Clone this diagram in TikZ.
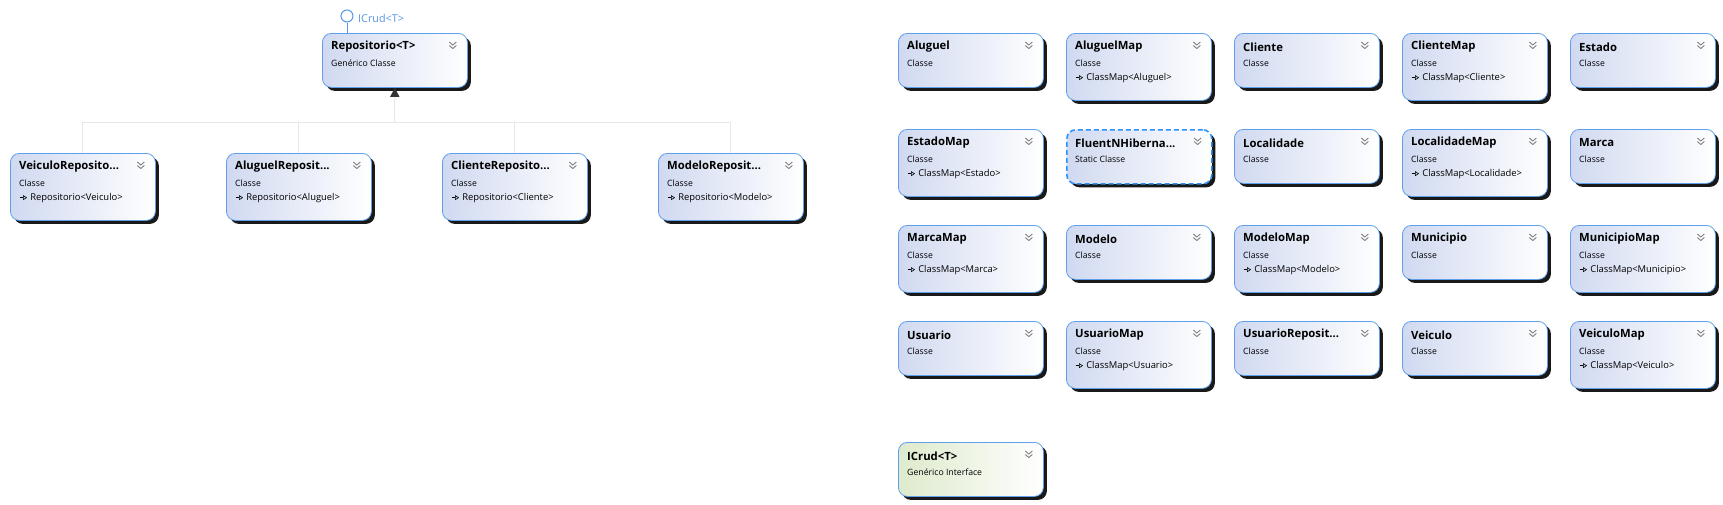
\documentclass[tikz,border=0pt]{standalone}
\usepackage{fontspec}
\setmainfont{Open Sans}
\usetikzlibrary{shadows,arrows.meta,calc}
\definecolor{bordblue}{RGB}{95,160,238}
\definecolor{dashblue}{RGB}{45,145,250}
\definecolor{fillblue}{RGB}{208,217,240}
\definecolor{fillgreen}{RGB}{222,234,204}
\definecolor{icblue}{RGB}{90,150,230}
\definecolor{connc}{RGB}{232,232,232}
\definecolor{chevc}{RGB}{128,128,128}
\newcommand\inh{\tikz[baseline=-2.8pt]\draw[line width=0.6pt,-{Triangle[open,length=4pt,width=5pt]}] (0pt,0pt) -- (7.5pt,0pt);\hspace{3pt}}
\tikzset{
  cls/.style={draw=bordblue, line width=0.8pt, rounded corners=9pt,
    left color=fillblue, right color=white, minimum width=145pt,
    anchor=north west, inner sep=0pt,
    drop shadow={shadow xshift=3.5pt, shadow yshift=-3.5pt, fill=black, opacity=0.9}},
  clsdash/.style={cls, draw=dashblue, line width=1.6pt, dash pattern=on 5pt off 3pt},
  clsint/.style={cls, left color=fillgreen, right color=white},
  two/.style={minimum height=54pt},
  three/.style={minimum height=67pt},
  ttl/.style={anchor=west, inner sep=0pt, font=\bfseries\fontsize{11.3}{13}\selectfont},
  sub/.style={anchor=west, inner sep=0pt, font=\fontsize{8.7}{10}\selectfont},
  base/.style={anchor=west, inner sep=0pt, font=\fontsize{9.4}{11}\selectfont},
  chev/.style={draw=chevc, line width=0.9pt},
  conn/.style={draw=connc, line width=1pt},
}
% name, x, y, style, title, sub
\newcommand\boxtwo[6]{%
  \node[#4,two] (#1) at (#2,#3) {};
  \node[ttl] (#1-t) at ([xshift=9pt,yshift=-14pt]#1.north west) {#5};
  \node[sub] (#1-s) at ([xshift=9pt,yshift=-30pt]#1.north west) {#6};
  \draw[chev] ([xshift=-18.5pt,yshift=-9pt]#1.north east) -- ++(3.5,3) -- ++(3.5,-3);
  \draw[chev] ([xshift=-18.5pt,yshift=-12.5pt]#1.north east) -- ++(3.5,3) -- ++(3.5,-3);
}
\newcommand\boxthree[7]{%
  \node[#4,three] (#1) at (#2,#3) {};
  \node[ttl] (#1-t) at ([xshift=9pt,yshift=-14pt]#1.north west) {#5};
  \node[sub] (#1-s) at ([xshift=9pt,yshift=-30pt]#1.north west) {#6};
  \node[base] (#1-b) at ([xshift=9pt,yshift=-45pt]#1.north west) {\inh#7};
  \draw[chev] ([xshift=-18.5pt,yshift=-9pt]#1.north east) -- ++(3.5,3) -- ++(3.5,-3);
  \draw[chev] ([xshift=-18.5pt,yshift=-12.5pt]#1.north east) -- ++(3.5,3) -- ++(3.5,-3);
}
\begin{document}
\begin{tikzpicture}[x=1pt,y=-1pt]
\useasboundingbox[fill=white] (0,0) rectangle (1723,504);
% left hierarchy
\boxtwo{repo}{322}{33}{cls}{Repositorio<T>}{Genérico Classe}
\boxthree{vrep}{10}{153}{cls}{VeiculoReposito...}{Classe}{Repositorio<Veiculo>}
\boxthree{arep}{226}{153}{cls}{AluguelReposit...}{Classe}{Repositorio<Aluguel>}
\boxthree{crep}{442}{153}{cls}{ClienteReposito...}{Classe}{Repositorio<Cliente>}
\boxthree{mrep}{658}{153}{cls}{ModeloReposit...}{Classe}{Repositorio<Modelo>}
\coordinate (hub) at (394.5,122);
\draw[conn] (vrep.north) |- (hub);
\draw[conn] (arep.north) |- (hub);
\draw[conn] (crep.north) |- (hub);
\draw[conn] (mrep.north) |- (hub);
\draw[conn,-{Triangle[length=9pt,width=9pt,color=black!80]}] (hub) -- (repo.south);
% lollipop
\node[circle, draw=icblue, line width=1pt, minimum size=12pt, inner sep=0pt] (lolli) at (347,16) {};
\draw[draw=icblue, line width=1pt] (lolli.south) -- (lolli.south |- repo.north);
\node[anchor=west, inner sep=0pt, text=icblue, font=\fontsize{10.8}{12}\selectfont] (lollit) at (358,18.5) {ICrud<T>};
% grid row 1
\boxtwo{aluguel}{898}{33}{cls}{Aluguel}{Classe}
\boxthree{aluguelmap}{1066}{33}{cls}{AluguelMap}{Classe}{ClassMap<Aluguel>}
\boxtwo{cliente}{1234}{33}{cls}{Cliente}{Classe}
\boxthree{clientemap}{1402}{33}{cls}{ClienteMap}{Classe}{ClassMap<Cliente>}
\boxtwo{estado}{1570}{33}{cls}{Estado}{Classe}
% row 2
\boxthree{estadomap}{898}{129}{cls}{EstadoMap}{Classe}{ClassMap<Estado>}
\boxtwo{fluent}{1066}{129}{clsdash}{FluentNHiberna...}{Static Classe}
\boxtwo{localidade}{1234}{129}{cls}{Localidade}{Classe}
\boxthree{localidademap}{1402}{129}{cls}{LocalidadeMap}{Classe}{ClassMap<Localidade>}
\boxtwo{marca}{1570}{129}{cls}{Marca}{Classe}
% row 3
\boxthree{marcamap}{898}{225}{cls}{MarcaMap}{Classe}{ClassMap<Marca>}
\boxtwo{modelo}{1066}{225}{cls}{Modelo}{Classe}
\boxthree{modelomap}{1234}{225}{cls}{ModeloMap}{Classe}{ClassMap<Modelo>}
\boxtwo{municipio}{1402}{225}{cls}{Municipio}{Classe}
\boxthree{municipiomap}{1570}{225}{cls}{MunicipioMap}{Classe}{ClassMap<Municipio>}
% row 4
\boxtwo{usuario}{898}{321}{cls}{Usuario}{Classe}
\boxthree{usuariomap}{1066}{321}{cls}{UsuarioMap}{Classe}{ClassMap<Usuario>}
\boxtwo{usuariorep}{1234}{321}{cls}{UsuarioReposit...}{Classe}
\boxtwo{veiculo}{1402}{321}{cls}{Veiculo}{Classe}
\boxthree{veiculomap}{1570}{321}{cls}{VeiculoMap}{Classe}{ClassMap<Veiculo>}
% row 5
\boxtwo{icrud}{898}{442}{clsint}{ICrud<T>}{Genérico Interface}
\end{tikzpicture}
\end{document}
